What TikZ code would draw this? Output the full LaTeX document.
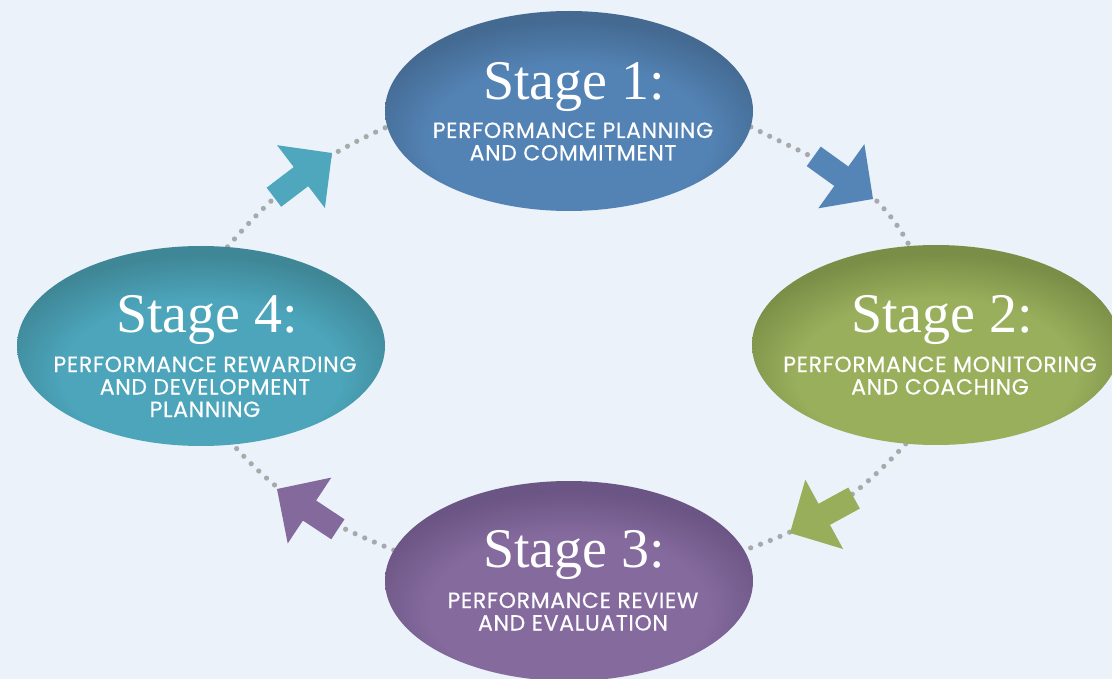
\documentclass[tikz,border=0pt]{standalone}
\usepackage{fontspec}
\setmainfont{Liberation Serif}
\newfontfamily\capsfont[LetterSpace=3,FakeBold=0.4]{Poppins}
\usetikzlibrary{shapes.geometric}

\pgfdeclarelayer{paperlayer}
\pgfdeclarelayer{ringlayer}
\pgfsetlayers{paperlayer,ringlayer,main}

\definecolor{paper}{HTML}{EBF2F9}
\definecolor{dotgrey}{HTML}{A8A9AB}
\definecolor{oneface}{HTML}{5383B5}
\definecolor{oneedge}{HTML}{446A92}
\definecolor{twoface}{HTML}{9AAF5C}
\definecolor{twoedge}{HTML}{7B8E47}
\definecolor{threeface}{HTML}{856A9E}
\definecolor{threeedge}{HTML}{6B5584}
\definecolor{fourface}{HTML}{4CA5BB}
\definecolor{fouredge}{HTML}{3F8797}
\definecolor{onearrow}{HTML}{5585B6}
\definecolor{twoarrow}{HTML}{98AE5A}
\definecolor{threearrow}{HTML}{846A9C}
\definecolor{fourarrow}{HTML}{4EA7BD}

% soft darker rim, heavier along the top edge, none along the bottom
\pgfdeclareradialshading{glowone}{\pgfpoint{0bp}{-12bp}}{color(0bp)=(oneface); color(19bp)=(oneface); color(28bp)=(oneedge); color(50bp)=(oneedge)}
\pgfdeclareradialshading{glowtwo}{\pgfpoint{0bp}{-12bp}}{color(0bp)=(twoface); color(19bp)=(twoface); color(28bp)=(twoedge); color(50bp)=(twoedge)}
\pgfdeclareradialshading{glowthree}{\pgfpoint{0bp}{-12bp}}{color(0bp)=(threeface); color(19bp)=(threeface); color(28bp)=(threeedge); color(50bp)=(threeedge)}
\pgfdeclareradialshading{glowfour}{\pgfpoint{0bp}{-12bp}}{color(0bp)=(fourface); color(19bp)=(fourface); color(28bp)=(fouredge); color(50bp)=(fouredge)}

\tikzset{
  stage/.style={shape=ellipse, minimum width=368pt, minimum height=200pt,
    inner sep=0pt, draw=none, shade},
  title/.style={anchor=base, inner sep=0pt, text=white,
    font=\fontsize{56}{60}\selectfont},
  desc/.style={anchor=base, inner sep=0pt, text=white,
    font=\capsfont\fontsize{22}{22.5}\selectfont},
  ring/.style={draw=dotgrey, line width=5.2pt, line cap=round,
    dash pattern=on 0pt off 10.5pt},
  pics/stagearrow/.style={code={
    \fill[pic actions] (0,0) -- (-39,39.5) -- (-39,12) -- (-73,12)
      -- (-73,-12) -- (-39,-12) -- (-39,-39.5) -- cycle;}}
}

\begin{document}
\begin{tikzpicture}[x=1pt,y=-1pt]
\useasboundingbox (0,0) rectangle (1112,679);
\begin{pgfonlayer}{paperlayer}
  \fill[paper] (0,0) rectangle (1112,679);
\end{pgfonlayer}

% the four stages
\node[stage, shading=glowone]   (s1) at (569,111) {};
\node[stage, shading=glowtwo]   (s2) at (936,345) {};
\node[stage, shading=glowthree] (s3) at (569,581) {};
\node[stage, shading=glowfour]  (s4) at (201,346) {};

\node[title] (t1) at (574,100) {Stage 1:};
\node[desc]  (d1) at (573,138) {\begin{tabular}[t]{@{}c@{}}PERFORMANCE PLANNING\\AND COMMITMENT\end{tabular}};
\node[title] (t2) at (942,332) {Stage 2:};
\node[desc]  (d2) at (940,372) {\begin{tabular}[t]{@{}c@{}}PERFORMANCE MONITORING\\AND COACHING\end{tabular}};
\node[title] (t3) at (574,567) {Stage 3:};
\node[desc]  (d3) at (573,608) {\begin{tabular}[t]{@{}c@{}}PERFORMANCE REVIEW\\AND EVALUATION\end{tabular}};
\node[title] (t4) at (207,332) {Stage 4:};
\node[desc]  (d4) at (205,372) {\begin{tabular}[t]{@{}c@{}}PERFORMANCE REWARDING\\AND DEVELOPMENT\\PLANNING\end{tabular}};

% dotted cycle between the stages
\begin{pgfonlayer}{ringlayer}
  \draw[ring] (s1.-5)   to[out=-27,  in=118] (s2.105);
  \draw[ring] (s2.-107) to[out=-133, in=19]  (s3.10);
  \draw[ring] (s3.170)  to[out=158,  in=-48] (s4.-72);
  \draw[ring] (s4.75)   to[out=49,   in=204] (s1.185);
\end{pgfonlayer}

% direction arrows on the cycle
\pic[fill=onearrow,   rotate=-35.7]  (a1) at (873,199) {stagearrow};
\pic[fill=twoarrow,   rotate=-151.4] (a2) at (790,533) {stagearrow};
\pic[fill=threearrow, rotate=146.5]  (a3) at (277,489) {stagearrow};
\pic[fill=fourarrow,  rotate=37.3]   (a4) at (332,153) {stagearrow};
\end{tikzpicture}
\end{document}
